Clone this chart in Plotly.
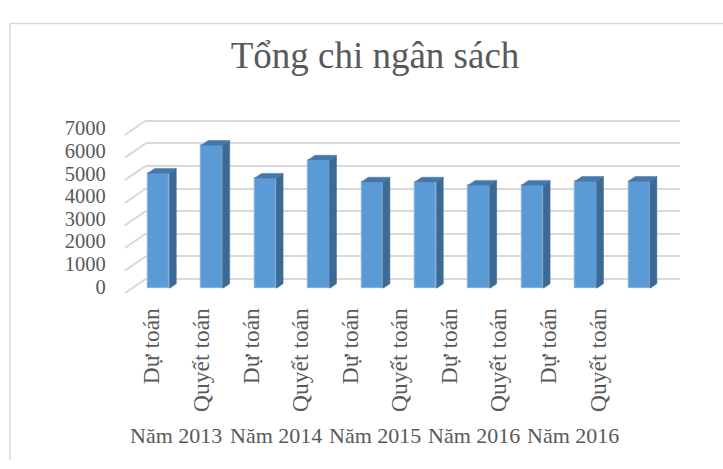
import plotly.graph_objects as go

# ---------------- data ----------------
categories = ["Dự toán", "Quyết toán", "Dự toán", "Quyết toán", "Dự toán",
              "Quyết toán", "Dự toán", "Quyết toán", "Dự toán", "Quyết toán"]
groups = ["Năm 2013", "Năm 2014", "Năm 2015", "Năm 2016", "Năm 2016"]
values = [5100, 6330, 4880, 5680, 4710, 4710, 4570, 4570, 4740, 4740]
y_ticks = [0, 1000, 2000, 3000, 4000, 5000, 6000, 7000]
title_text = "Tổng chi ngân sách"

# ---------------- layout constants (figure pixels) ----------------
W_FIG, H_FIG = 723, 469
YMAX = 7000
N = len(values)
BAR_X0, BAR_X1 = 131.8, 665.8          # bar (front-face) plane
BAR_Y0, BAR_Y7 = 289.0, 123.0          # pixel y of 0 and of YMAX
BACK_DX, BACK_DY = 14, 10              # back wall offset from bar plane
LBL_X0, LBL_X1 = 126.9, 622.8          # label plane (perspective compressed)
DEPTH_DX, DEPTH_DY = 7, 5              # bar depth
FRONT_DX, FRONT_DY = 7, 5              # front plane offset
GRID_PAD = 200
BORDER_X, BORDER_Y = 10, 11

px_per_x = (BAR_X1 - BAR_X0) / N
px_per_y = (BAR_Y0 - BAR_Y7) / YMAX
dxd = DEPTH_DX / px_per_x
dyd = DEPTH_DY / px_per_y
BAR_W = 0.404
hw = BAR_W / 2

TXT = "#595959"
GRID = "#D9D9D9"
FONT = "Liberation Serif"


def xdom(x0, x1):
    return [x0 / W_FIG, x1 / W_FIG]


def ydom(p_bottom, p_top):
    return [(H_FIG - p_bottom) / H_FIG, (H_FIG - p_top) / H_FIG]


def px_of_value(v):
    return BAR_Y0 - v * px_per_y


fig = go.Figure()

# back wall gridlines live on subplot x/y (drawn first, underneath)
fig.add_trace(go.Scatter(x=[0], y=[0], mode="markers", marker=dict(opacity=0),
                         hoverinfo="skip", xaxis="x", yaxis="y"))

# front faces of bars
fig.add_trace(go.Bar(
    x=list(range(N)), y=values, width=BAR_W,
    marker=dict(color="#5B9BD5", line=dict(color="#80B1DF", width=1)),
    hoverinfo="skip", xaxis="x2", yaxis="y2"))

# side faces and top faces
sx, sy, tx, ty = [], [], [], []
for i, v in enumerate(values):
    sx += [i + hw, i + hw + dxd, i + hw + dxd, i + hw, i + hw, None]
    sy += [0, dyd, v + dyd, v, 0, None]
    tx += [i - hw, i - hw + dxd, i + hw + dxd, i + hw, i - hw, None]
    ty += [v, v + dyd, v + dyd, v, v, None]
fig.add_trace(go.Scatter(x=sx, y=sy, mode="lines", fill="toself",
                         fillcolor="#3C6A94", line=dict(color="#3C6A94", width=0.5),
                         hoverinfo="skip", xaxis="x2", yaxis="y2"))
fig.add_trace(go.Scatter(x=tx, y=ty, mode="lines", fill="toself",
                         fillcolor="#4677AA", line=dict(color="#4677AA", width=0.5),
                         hoverinfo="skip", xaxis="x2", yaxis="y2"))

# label axis
fig.add_trace(go.Scatter(x=[0], y=[0], mode="markers", marker=dict(opacity=0),
                         hoverinfo="skip", xaxis="x3", yaxis="y2"))

# diagonal grid connectors (front plane -> back wall), positioned from tick values
shapes = []
for v in y_ticks:
    yp = px_of_value(v)
    shapes.append(dict(type="line", xref="paper", yref="paper",
                       x0=(BAR_X0 - FRONT_DX) / W_FIG, x1=(BAR_X0 + BACK_DX) / W_FIG,
                       y0=(H_FIG - (yp + FRONT_DY)) / H_FIG,
                       y1=(H_FIG - (yp - BACK_DY)) / H_FIG,
                       line=dict(color=GRID, width=2), layer="below"))
# chart border (top and left edges visible in the frame)
shapes.append(dict(type="line", xref="paper", yref="paper",
                   x0=BORDER_X / W_FIG, x1=1, y0=1 - BORDER_Y / H_FIG,
                   y1=1 - BORDER_Y / H_FIG, line=dict(color=GRID, width=1.5)))
shapes.append(dict(type="line", xref="paper", yref="paper",
                   x0=BORDER_X / W_FIG, x1=BORDER_X / W_FIG, y0=0,
                   y1=1 - BORDER_Y / H_FIG, line=dict(color=GRID, width=1.5)))

annotations = []
for k, g in enumerate(groups):
    annotations.append(dict(text=g, xref="x3", yref="paper",
                            x=2 * k + 0.5, y=(H_FIG - 443) / H_FIG,
                            xanchor="center", yanchor="middle", showarrow=False,
                            font=dict(family=FONT, size=22, color=TXT)))

back_y0 = BAR_Y0 - BACK_DY + GRID_PAD * px_per_y
back_y7 = BAR_Y7 - BACK_DY - GRID_PAD * px_per_y

fig.update_layout(
    width=W_FIG, height=H_FIG,
    margin=dict(l=0, r=0, t=0, b=0, pad=0),
    paper_bgcolor="white", plot_bgcolor="rgba(0,0,0,0)",
    showlegend=False, bargap=0,
    title=dict(text=title_text, x=375 / W_FIG, xref="container", xanchor="center",
               y=1 - 55 / H_FIG, yref="container", yanchor="middle",
               font=dict(family=FONT, size=37, color=TXT)),
    xaxis=dict(domain=xdom(BAR_X0 + BACK_DX, BAR_X1 + BACK_DX),
               range=[-0.5, N - 0.5], anchor="y",
               showgrid=False, zeroline=False, showline=False,
               showticklabels=False, fixedrange=True),
    yaxis=dict(domain=ydom(back_y0, back_y7),
               range=[-GRID_PAD, YMAX + GRID_PAD], anchor="x", tickvals=y_ticks,
               showgrid=True, gridcolor=GRID, gridwidth=2,
               zeroline=False, showline=False, showticklabels=False,
               fixedrange=True),
    xaxis2=dict(domain=xdom(BAR_X0, BAR_X1),
                range=[-0.5, N - 0.5], anchor="y2", showgrid=False, zeroline=False,
                showline=False, showticklabels=False, fixedrange=True),
    yaxis2=dict(domain=ydom(BAR_Y0, BAR_Y7), range=[0, YMAX], anchor="x2",
                tickvals=y_ticks, ticktext=[str(t) for t in y_ticks],
                showgrid=False, zeroline=False, showline=False,
                ticklabelstandoff=25, ticklabelshift=-2,
                tickfont=dict(family=FONT, size=20.5, color=TXT), fixedrange=True),
    xaxis3=dict(domain=xdom(LBL_X0, LBL_X1),
                range=[-0.5, N - 0.5], anchor="y2",
                tickvals=list(range(N)), ticktext=categories, tickangle=-90,
                ticklabelstandoff=14,
                tickfont=dict(family=FONT, size=23.5, color=TXT),
                showgrid=False, zeroline=False, showline=False, fixedrange=True),
    shapes=shapes, annotations=annotations,
)

fig.write_html("out.html", config={"displayModeBar": False},
               post_script="document.body.style.margin='0px';")
